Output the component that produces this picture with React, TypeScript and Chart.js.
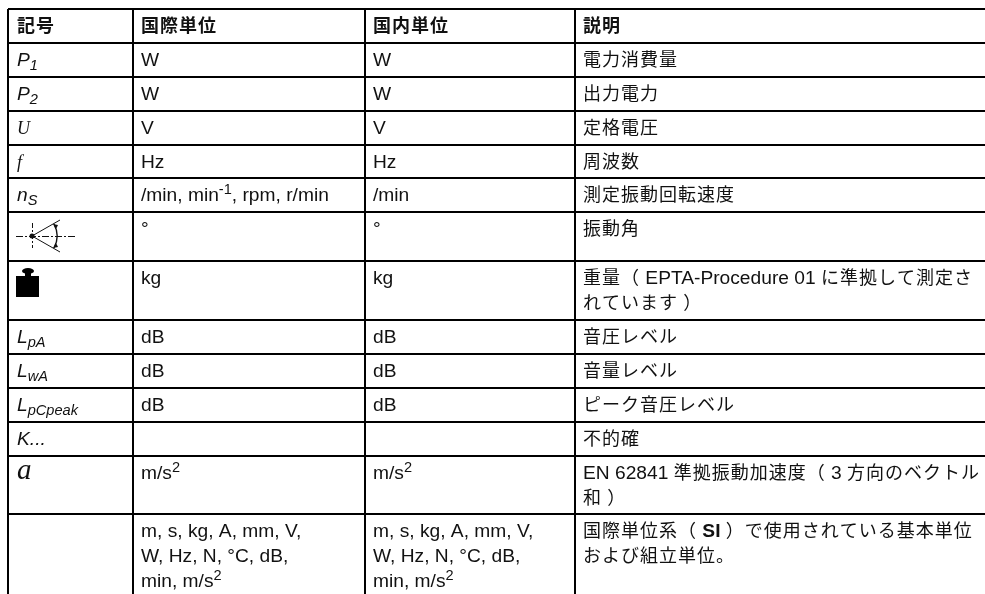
import React, { useEffect, useRef } from "react";
import { Chart, registerables } from "chart.js";

Chart.register(...registerables);

const columnWidths = [125, 232, 210, 410];
const rowHeights = [34, 34, 34, 34, 33, 34, 49, 59, 34, 34, 34, 34, 58, 80];

const symbols = [
  "*{記号}", "P~{1}", "P~{2}", "§U", "§f", "n~{S}", "", "", "L~{pA}", "L~{wA}", "L~{pCpeak}", "K...", "¤a", "",
];
const internationalUnits = [
  "*{国際単位}", "W", "W", "V", "Hz", "/min, min^{-1}, rpm, r/min", "°", "kg", "dB", "dB", "dB", "", "m/s^{2}",
  "m, s, kg, A, mm, V,\nW, Hz, N, °C, dB,\nmin, m/s^{2}",
];
const domesticUnits = [
  "*{国内単位}", "W", "W", "V", "Hz", "/min", "°", "kg", "dB", "dB", "dB", "", "m/s^{2}",
  "m, s, kg, A, mm, V,\nW, Hz, N, °C, dB,\nmin, m/s^{2}",
];
const descriptions = [
  "*{説明}", "電力消費量", "出力電力", "定格電圧", "周波数", "測定振動回転速度", "振動角",
  "重量（ EPTA-Procedure 01 に準拠して測定さ\nれています ）", "音圧レベル", "音量レベル", "ピーク音圧レベル", "不的確",
  "EN 62841 準拠振動加速度（ 3 方向のベクトル\n和 ）",
  "国際単位系（ *{SI} ）で使用されている基本単位\nおよび組立単位。",
];
const textColumns = [symbols, internationalUnits, domesticUnits, descriptions];
const ANGLE_ROW = 6;
const WEIGHT_ROW = 7;

const sum = (a: number[], n: number) => a.slice(0, n).reduce((s, v) => s + v, 0);
const columnEdges = columnWidths.map((_, i) => sum(columnWidths, i));
const rowEdges = rowHeights.map((_, i) => sum(rowHeights, i));

const TEXT = "#111";
const LATIN = '"Liberation Sans", Arial, sans-serif';
const SERIF = '"Liberation Serif", serif';
const CJK = '"Noto Sans CJK JP", sans-serif';
const isCjk = (c: string) => /[\u3000-\u9fff\uff00-\uffef]/.test(c);

type Run = { text: string; bold: boolean; shift: 0 | 1 | -1 };
function parse(line: string): Run[] {
  const runs: Run[] = [];
  const re = /([*~^])\{([^}]*)\}/g;
  let last = 0;
  let m: RegExpExecArray | null;
  while ((m = re.exec(line))) {
    if (m.index > last) runs.push({ text: line.slice(last, m.index), bold: false, shift: 0 });
    runs.push({ text: m[2], bold: m[1] === "*", shift: m[1] === "^" ? 1 : m[1] === "~" ? -1 : 0 });
    last = m.index + m[0].length;
  }
  if (last < line.length) runs.push({ text: line.slice(last), bold: false, shift: 0 });
  return runs;
}

function drawLine(ctx: CanvasRenderingContext2D, line: string, x0: number, y: number, col: number) {
  let x = x0;
  let family = LATIN;
  const italic = col === 0;
  let baseSize = 19.2;
  if (line.startsWith("§")) { family = SERIF; line = line.slice(1); baseSize = 18; }
  if (line.startsWith("¤")) { family = SERIF; line = line.slice(1); baseSize = 29; }
  for (const run of parse(line)) {
    const parts = run.text.match(/[\u3000-\u9fff\uff00-\uffef]+|[^\u3000-\u9fff\uff00-\uffef]+/g) || [];
    for (const part of parts) {
      const cjk = isCjk(part[0]);
      const size = run.shift !== 0 ? 14.6 : cjk ? 18 : baseSize;
      const weight = run.bold ? "bold " : "";
      const style = italic && !cjk ? "italic " : "";
      ctx.font = `${style}${weight}${size}px ${cjk ? CJK : family}`;
      (ctx as any).letterSpacing = cjk ? "1px" : "0px";
      const dy = run.shift === 1 ? -7 : run.shift === -1 ? 4 : 0;
      ctx.fillText(part, x, y + dy);
      x += ctx.measureText(part).width;
    }
  }
  (ctx as any).letterSpacing = "0px";
}

function drawAngleIcon(ctx: CanvasRenderingContext2D, x: number, y: number) {
  const cx = x + 24;
  const cy = y + 24;
  ctx.save();
  ctx.strokeStyle = "#111";
  ctx.fillStyle = "#111";
  ctx.lineWidth = 1;
  ctx.setLineDash([7, 2, 2, 2]);
  ctx.beginPath(); ctx.moveTo(cx - 16, cy + 0.5); ctx.lineTo(cx + 43, cy + 0.5); ctx.stroke();
  ctx.setLineDash([5, 2, 2, 2]);
  ctx.beginPath(); ctx.moveTo(cx + 0.5, cy - 13); ctx.lineTo(cx + 0.5, cy + 12); ctx.stroke();
  ctx.setLineDash([]);
  ctx.beginPath(); ctx.moveTo(cx, cy); ctx.lineTo(cx + 28, cy - 16); ctx.moveTo(cx, cy); ctx.lineTo(cx + 28, cy + 16); ctx.stroke();
  ctx.lineWidth = 1.4;
  ctx.beginPath(); ctx.arc(cx, cy, 25, -0.5, 0.5); ctx.stroke();
  ctx.beginPath(); ctx.arc(cx, cy, 2.5, 0, Math.PI * 2); ctx.fill();
  for (const s of [-1, 1]) {
    ctx.beginPath();
    ctx.moveTo(cx + 21, cy + s * 12);
    ctx.lineTo(cx + 24, cy + s * 7);
    ctx.lineTo(cx + 26, cy + s * 11);
    ctx.fill();
  }
  ctx.restore();
}

function drawWeightIcon(ctx: CanvasRenderingContext2D, x: number, y: number) {
  const left = x + 8;
  ctx.save();
  ctx.fillStyle = "#000";
  ctx.beginPath();
  ctx.ellipse(left + 12, y + 10, 6, 3, 0, 0, Math.PI * 2);
  ctx.fill();
  ctx.fillRect(left + 9, y + 11, 6, 5);
  ctx.fillRect(left, y + 15, 23, 21);
  ctx.restore();
}

const tablePlugin = {
  id: "tableCells",
  afterDatasetsDraw(chart: any) {
    const ctx: CanvasRenderingContext2D = chart.ctx;
    ctx.save();
    ctx.textBaseline = "alphabetic";
    ctx.textAlign = "left";
    ctx.fillStyle = TEXT;
    textColumns.forEach((column, col) => {
      const points = chart.getDatasetMeta(col).data;
      column.forEach((cell, row) => {
        const { x, y } = points[row];
        if (col === 0 && row === ANGLE_ROW) drawAngleIcon(ctx, x, y);
        if (col === 0 && row === WEIGHT_ROW) drawWeightIcon(ctx, x, y);
        cell.split("\n").forEach((line, i) => {
          drawLine(ctx, line, x + (col === 0 ? 9 : 8), y + 23 + i * 25, col);
        });
      });
    });
    ctx.restore();
  },
};

export default function App() {
  const ref = useRef<HTMLCanvasElement>(null);
  useEffect(() => {
    if (!ref.current) return;
    const chart = new Chart(ref.current, {
      type: "scatter",
      data: {
        datasets: textColumns.map((column, col) => ({
          label: ["記号", "国際単位", "国内単位", "説明"][col],
          data: column.map((_, row) => ({ x: columnEdges[col], y: rowEdges[row] })),
          pointRadius: 0,
          clip: false as any,
        })),
      },
      options: {
        animation: false,
        responsive: false,
        layout: { padding: { left: 8, top: 9, right: 0, bottom: 0 } },
        plugins: { legend: { display: false }, tooltip: { enabled: false } },
        scales: {
          x: {
            type: "linear",
            min: 0,
            max: 977,
            afterBuildTicks: (s: any) => { s.ticks = columnEdges.map((value) => ({ value })); },
            ticks: { display: false },
            grid: { color: "#000", lineWidth: 2, drawTicks: false },
            border: { display: false },
          },
          y: {
            type: "linear",
            reverse: true,
            min: 0,
            max: 585,
            afterBuildTicks: (s: any) => { s.ticks = rowEdges.map((value) => ({ value })); },
            ticks: { display: false },
            grid: { color: "#000", lineWidth: 2, drawTicks: false },
            border: { display: false },
          },
        },
      },
      plugins: [tablePlugin],
    } as any);
    return () => chart.destroy();
  }, []);
  return (
    <div style={{ position: "fixed", left: 0, top: 0, width: 985, height: 594, background: "#fff" }}>
      <canvas ref={ref} width={985} height={594} style={{ display: "block", width: 985, height: 594 }} />
    </div>
  );
}
